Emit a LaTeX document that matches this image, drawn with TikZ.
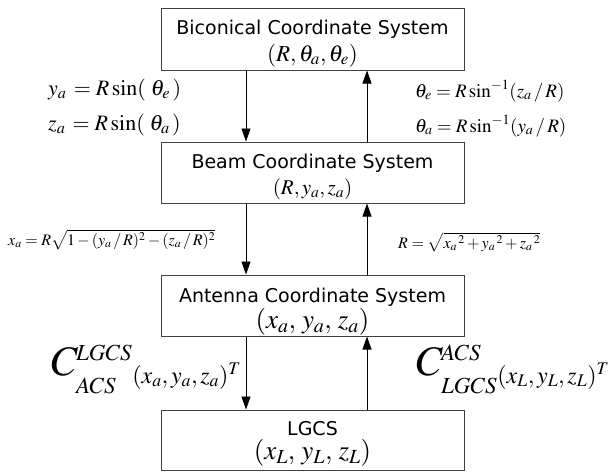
\documentclass[tikz,border=0pt]{standalone}
\usepackage{mathptmx}
\usepackage[no-math]{fontspec}
\newfontfamily\gul{DejaVu Sans}
\usepackage{graphicx}
\usetikzlibrary{arrows.meta}
\newcommand{\myC}[3]{{\fontsize{42}{42}\selectfont$C$}\kern-2pt{\fontsize{23}{23}\selectfont\ooalign{\raisebox{15pt}{$#1$}\cr\raisebox{-18pt}{$#2$}\cr}\kern0.5pt\raisebox{-8pt}{\fontsize{24}{24}\selectfont$#3$}}}
\begin{document}
\begin{tikzpicture}[x=1pt,y=-1pt,
  box/.style={draw=black!75, line width=1pt, minimum width=303pt, minimum height=#1, inner sep=0pt},
  ttl/.style={font=\gul\fontsize{19}{20}\selectfont, inner sep=0pt, anchor=base},
  mth/.style={font=\fontsize{#1}{#1}\selectfont, inner sep=0pt},
  arr/.style={-{Triangle[length=13pt,width=9pt]}, line width=0.9pt}]
\useasboundingbox (0,0) rectangle (612,471);
% boxes
\node[box=62pt] (b1) at (312.5,39) {};
\node[box=61pt] (b2) at (312.5,172.5) {};
\node[box=61pt] (b3) at (312.5,305.5) {};
\node[box=60pt] (b4) at (312.5,440) {};
% titles
\node[ttl] (t1) at (312.5,34) {Biconical Coordinate System};
\node[mth=23, anchor=base] (m1) at (312.5,61) {$(R,\theta_a,\theta_e)$};
\node[ttl] (t2) at (312.5,168) {Beam Coordinate System};
\node[mth=21, anchor=base] (m2) at (312.5,194) {$(R,y_a,z_a)$};
\node[ttl] (t3) at (312.5,302) {Antenna Coordinate System};
\node[mth=27, anchor=base] (m3) at (312.5,328) {$(x_a,\,y_a,\,z_a)$};
\node[ttl] (t4) at (312.5,435) {LGCS};
\node[mth=27, anchor=base] (m4) at (312.5,459) {$(x_L,\,y_L,\,z_L)$};
% arrows
\coordinate (dn) at (246,0);
\coordinate (up) at (367,0);
\draw[arr] (b1.south -| dn) -- (b2.north -| dn);
\draw[arr] (b2.north -| up) -- (b1.south -| up);
\draw[arr] (b2.south -| dn) -- (b3.north -| dn);
\draw[arr] (b3.north -| up) -- (b2.south -| up);
\draw[arr] (b3.south -| dn) -- (b4.north -| dn);
\draw[arr] (b4.north -| up) -- (b3.south -| up);
% formulas
\node[mth=22, anchor=base west] (f1) at (48,95) {$y_a\, = R\sin(\;\theta_e\,)$};
\node[mth=22, anchor=base west] (f2) at (48,130) {$z_a\, = R\sin(\;\theta_a\,)$};
\node[mth=19, anchor=base west] (f3) at (415,97) {$\theta_e = R\sin^{-1}(z_a\,/\,R)$};
\node[mth=19, anchor=base west] (f4) at (415,132) {$\theta_a = R\sin^{-1}(y_a\,/\,R)$};
\node[mth=16, anchor=base west] (f5) at (8,245) {$x_a = R\sqrt{1-(y_a\,/\,R)^2-(z_a\,/\,R)^2}$};
\node[mth=16, anchor=base west] (f6) at (398,248) {$R = \sqrt{{x_a}^{\,2}+{y_a}^{\,2}+{z_a}^{\,2}}$};
\node[inner sep=0pt, anchor=base west] (f7) at (51,375) {\myC{LGCS}{ACS}{(x_a,y_a,z_a)^T}};
\node[inner sep=0pt, anchor=base west] (f8) at (416,375) {\myC{ACS}{LGCS}{(x_L,y_L,z_L)^T}};
\end{tikzpicture}
\end{document}
